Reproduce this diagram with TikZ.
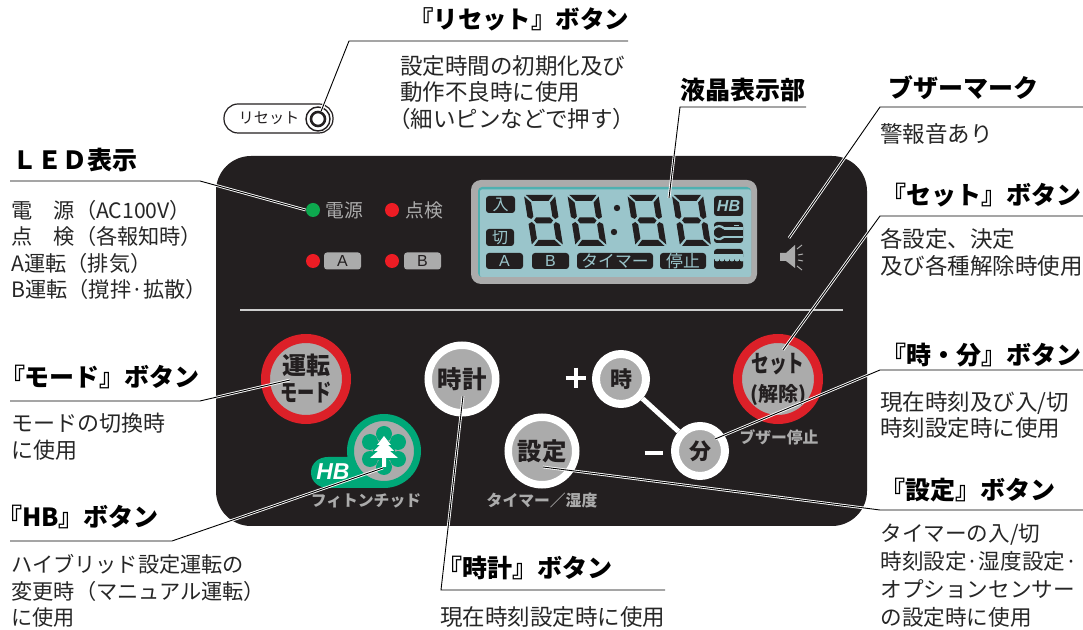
\documentclass[tikz,border=0pt]{standalone}
\usepackage{fontspec}
\setmainfont{Noto Sans CJK JP}
\newfontfamily\latinfont{Liberation Sans}
\usetikzlibrary{positioning}
\definecolor{panelblack}{HTML}{231F20}
\definecolor{btngray}{HTML}{ABABAB}
\definecolor{btnred}{HTML}{DC2028}
\definecolor{hbgreen}{HTML}{00A878}
\definecolor{lcdblue}{HTML}{9AC5CB}
\definecolor{lcdteal}{HTML}{4FB0B0}
\definecolor{ledgreen}{HTML}{0DA84E}
\definecolor{ledred}{HTML}{ED1C24}
\tikzset{
  heading/.style={font=\fontsize{12.5}{14}\selectfont\bfseries, inner sep=0pt},
  bodytext/.style={font=\fontsize{10.6}{13.3}\selectfont, anchor=north west, align=left, inner sep=0pt, text=black!85},
  widetext/.style={bodytext, font=\fontsize{11.25}{13.3}\selectfont},
  leader/.style={draw=white, line width=0.45pt, double=black, double distance=0.45pt},
  bigbtn/.style={circle, fill=btngray, draw=btnred, line width=4.5pt, minimum size=40.5pt, inner sep=0pt, align=center, font=\fontsize{12}{13.5}\selectfont\bfseries, text=panelblack},
  whitebtn/.style={circle, fill=btngray, draw=white, line width=3.75pt, minimum size=33.75pt, inner sep=0pt, font=\fontsize{12.2}{14}\selectfont\bfseries, text=panelblack},
  smallbtn/.style={circle, fill=btngray, draw=white, line width=4pt, minimum size=25pt, inner sep=0pt, font=\fontsize{11}{13}\selectfont\bfseries, text=panelblack},
  led/.style={circle, minimum size=7pt, inner sep=0pt},
  ledlabel/.style={font=\fontsize{9.4}{11}\selectfont, text=btngray, inner sep=0pt},
  ledtag/.style={fill=btngray, rounded corners=1.5pt, minimum width=18.5pt, minimum height=8.5pt, inner sep=0pt, text=panelblack, font=\latinfont\fontsize{8}{8}\selectfont},
  panellabel/.style={font=\fontsize{7.9}{9}\selectfont\bfseries, text=btngray, inner sep=0pt},
  lcdtag/.style={fill=panelblack, rounded corners=1.5pt, inner sep=0pt, text=lcdblue, font=\fontsize{8}{8}\selectfont},
  lcdseg/.style={fill=panelblack},
  signmark/.style={white, line width=2.4pt}
}
\begin{document}
\begin{tikzpicture}[x=0.5pt,y=-0.5pt]
\useasboundingbox (0,0) rectangle (1083,630);
% panel
\node (panel) at (541.5,341) [fill=panelblack, rounded corners=17.5pt, minimum width=325.5pt, minimum height=185pt, inner sep=0pt] {};
\draw[btngray!60!white, line width=1pt] (240,310) -- (843,310);
% reset button
\node (resetpill) at (278.5,118.5) [draw=panelblack, line width=0.6pt, rounded corners=7pt, minimum width=54.5pt, minimum height=14.5pt, inner sep=0pt] {};
\node (resetlabel) at (269,118.5) [font=\fontsize{7.6}{9}\selectfont, text=panelblack, inner sep=0pt] {リセット};
\node (resetknob) at (318,119) [circle, draw=panelblack, line width=0.7pt, minimum size=12pt, inner sep=0pt] {};
\node (resetpin) at (318,119) [circle, draw=panelblack, line width=1.3pt, minimum size=7pt, inner sep=0pt] {};
% leds
\node (ledpower) at (313,210) [led, fill=ledgreen] {};
\node (ledcheck) at (392,210) [led, fill=ledred] {};
\node (leda) at (313,261) [led, fill=ledred] {};
\node (ledb) at (392,261) [led, fill=ledred] {};
\node (powerlabel) at (344,210) [ledlabel] {電源};
\node (checklabel) at (424,210) [ledlabel] {点検};
\node (atag) at (342.5,261) [ledtag] {A};
\node (btag) at (422.5,261) [ledtag] {B};
% lcd
\node (lcdframe) at (614,232) [fill=btngray, rounded corners=5pt, minimum width=143pt, minimum height=52pt, inner sep=0pt] {};
\node (lcdedge) at (614.5,232) [fill=lcdteal, rounded corners=2pt, minimum width=136.5pt, minimum height=45pt, inner sep=0pt] {};
\fill[lcdblue, rounded corners=1pt] (480,189.5) rectangle (751,277);
\node (lcdin) at (500.5,204.5) [lcdtag, minimum width=14.5pt, minimum height=8.5pt] {入};
\node (lcdoff) at (500,237.5) [lcdtag, minimum width=14pt, minimum height=8.5pt] {切};
\node (lcda) at (504.5,261) [lcdtag, minimum width=18.5pt, minimum height=8pt, font=\latinfont\fontsize{8}{8}\selectfont] {A};
\node (lcdb) at (550.5,261) [lcdtag, minimum width=18.5pt, minimum height=8pt, font=\latinfont\fontsize{8}{8}\selectfont] {B};
\node (lcdtimer) at (615,261) [lcdtag, minimum width=38pt, minimum height=8pt, font=\fontsize{8.4}{8}\selectfont] {タイマー};
\node (lcdstop) at (683,261) [lcdtag, minimum width=23pt, minimum height=8pt, font=\fontsize{8.4}{8}\selectfont] {停止};
\node (lcdhb) at (728.5,206) [lcdtag, minimum width=14.5pt, minimum height=10pt, font=\latinfont\fontsize{8}{8}\selectfont\bfseries\itshape] {HB};
\node (lcdtool) at (728.5,232.5) [lcdtag, minimum width=14.5pt, minimum height=10.5pt] {};
\node (lcdwater) at (728.5,259) [lcdtag, minimum width=14.5pt, minimum height=10pt] {};
\draw[lcdblue, line width=1.1pt] (724,228.5) -- (743,228.5) (724,237) -- (743,237);
\draw[lcdblue, line width=0.8pt] (734,225.5) -- (739,225.5);
\draw[lcdblue, line width=1.1pt] (724,228.5) arc[start angle=-40,end angle=-320,radius=6.5];
\fill[lcdblue] (714,254) rectangle (743,259);
\foreach \wavex in {717,722,727,732,737,742} {
  \fill[lcdblue] (\wavex,259) circle (2.5);
}
% digits
\foreach \digitx in {543.5,587,647,691.5} {
  \begin{scope}[shift={(\digitx,220.5)}, xslant=-0.16]
    \fill[lcdseg] (-13.5,-25.5) -- (13.5,-25.5) -- (8,-19.5) -- (-8,-19.5) -- cycle;
    \fill[lcdseg] (-13.5,25.5) -- (13.5,25.5) -- (8,19.5) -- (-8,19.5) -- cycle;
    \fill[lcdseg] (-9.5,0) -- (-7,-3) -- (7,-3) -- (9.5,0) -- (7,3) -- (-7,3) -- cycle;
    \foreach \segside in {-1,1} {
      \fill[lcdseg] (\segside*15.5,-24) -- (\segside*9.5,-18) -- (\segside*9.5,-4) -- (\segside*12,-1.5) -- (\segside*15.5,-3.5) -- cycle;
      \fill[lcdseg] (\segside*15.5,24) -- (\segside*9.5,18) -- (\segside*9.5,4) -- (\segside*12,1.5) -- (\segside*15.5,3.5) -- cycle;
    }
  \end{scope}
}
\fill[panelblack] (617,208) circle (3.2) (614,232) circle (3.2);
% speaker
\fill[btngray] (780,253) -- (786,253) -- (795,245) -- (795,268) -- (786,261) -- (780,261) -- cycle;
\draw[btngray, line width=0.5pt] (797,249) -- (802,245) (798,255) -- (803,254) (798,260) -- (803,261) (797,266) -- (802,270);
% buttons
\node (modebtn) at (306,379) [bigbtn] {運転\\\scalebox{0.72}[1]{モード}};
\node (setbtn) at (778,379) [bigbtn] {\scalebox{0.74}[1]{セット}\\[1pt]{\fontsize{10}{11}\selectfont(解除)}};
\node (clockbtn) at (462,379) [whitebtn] {時計};
\node (timerbtn) at (542,451) [whitebtn] {設定};
\node (hourbtn) at (621,379) [smallbtn] {時};
\node (minbtn) at (700,451) [smallbtn] {分};
\draw[white, line width=2.5pt] (hourbtn) -- (minbtn);
\node (plussign) at (576,378) [inner sep=0pt, minimum size=10pt] {};
\node (minussign) at (654,453) [inner sep=0pt, minimum size=9pt] {};
\draw[signmark] (plussign.west) -- (plussign.east) (plussign.north) -- (plussign.south);
\draw[signmark] (minussign.west) -- (minussign.east);
\node (buzzerstop) at (779,437) [panellabel] {ブザー停止};
\node (timerlabel) at (542,501) [panellabel] {タイマー／湿度};
\node (phytonlabel) at (366,501) [panellabel] {フィトンチッド};
% hb button
\fill[hbgreen] (311,472.5) .. controls (311,463) and (319,457) .. (328,457) -- (384,457) -- (384,488) -- (328,488) .. controls (319,488) and (311,482) .. (311,472.5) -- cycle;
\node (hbbtn) at (384,451) [circle, fill=btngray, draw=hbgreen, line width=3.5pt, minimum size=33.5pt, inner sep=0pt] {};
\fill[hbgreen] (384,451) circle (11);
\foreach \cloverx/\clovery in {384/434,370/442,398/442,370/459,398/459,384/467} {
  \fill[hbgreen] (\cloverx,\clovery) circle (8);
}
\fill[white] (384,436) -- (391,445) -- (388,445) -- (394,451) -- (390,451) -- (398,458) -- (386,458) -- (386,467) -- (382,467) -- (382,458) -- (370,458) -- (378,451) -- (374,451) -- (380,445) -- (377,445) -- cycle;
\node (hblogo) at (333,472) [text=white, inner sep=0pt, font=\latinfont\fontsize{11.5}{12}\selectfont\bfseries\itshape] {HB};
% headings
\node (resethead) at (519,19) [heading, font=\fontsize{12.2}{14}\selectfont\bfseries] {『リセット』ボタン};
\node (ledhead) at (74.5,160) [heading] {ＬＥＤ表示};
\node (modehead) at (100,377) [heading] {『モード』ボタン};
\node (hbhead) at (78,517) [heading] {『HB』ボタン};
\node (clockhead) at (525,568) [heading] {『時計』ボタン};
\node (lcdhead) at (743,90) [heading] {液晶表示部};
\node (buzzerhead) at (963,88) [heading] {ブザーマーク};
\node (sethead) at (981,195) [heading] {『セット』ボタン};
\node (hourhead) at (981,355) [heading] {『時・分』ボタン};
\node (timerhead) at (968,490) [heading] {『設定』ボタン};
% texts
\node (resettext) at (400,55) [widetext] {設定時間の初期化及び\\動作不良時に使用\\\hspace*{-6pt}（細いピンなどで押す）};
\node (ledtext) at (11,199.5) [bodytext] {電　源（AC100V）\\点　検（各報知時）\\A運転（排気）\\B運転（撹拌·拡散）};
\node (modetext) at (11,413) [bodytext, font=\fontsize{11}{13.3}\selectfont] {モードの切換時\\に使用};
\node (hbtext) at (11,554) [bodytext] {ハイブリッド設定運転の\\変更時（マニュアル運転）\\に使用};
\node (clocktext) at (440,606) [widetext] {現在時刻設定時に使用};
\node (buzzertext) at (880,123) [widetext] {警報音あり};
\node (settext) at (880,228) [widetext] {各設定、決定\\及び各種解除時使用};
\node (hourtext) at (880,391) [widetext] {現在時刻及び入/切\\時刻設定時に使用};
\node (timertext) at (880,524) [bodytext, font=\fontsize{10.8}{14}\selectfont] {タイマーの入/切\\時刻設定·湿度設定·\\オプションセンサー\\の設定時に使用};
% leaders
\coordinate (resetend) at (628,41); \coordinate (resetbend) at (349,41);
\coordinate (ledstart) at (10,181); \coordinate (ledbend) at (200,181);
\coordinate (modestart) at (10,401); \coordinate (modebend) at (200,401); \coordinate (modetip) at (290,380);
\coordinate (hbstart) at (10,541); \coordinate (hbbend) at (172,541); \coordinate (hbtip) at (383,468);
\coordinate (clockend) at (665,590); \coordinate (clockbend) at (441,590); \coordinate (clocktip) at (463,396);
\coordinate (lcdend) at (806,107); \coordinate (lcdbend) at (680,107); \coordinate (lcdtip) at (669,198);
\coordinate (buzzerend) at (1083,107); \coordinate (buzzerbend) at (880,107); \coordinate (buzzertip) at (789,238);
\coordinate (setend) at (1083,216); \coordinate (setbend) at (880,216); \coordinate (settip) at (783,350);
\coordinate (hourend) at (1083,370); \coordinate (hourbend) at (880,370); \coordinate (hourtip) at (715,439);
\coordinate (timerend) at (1083,510); \coordinate (timerbend) at (880,510); \coordinate (timertip) at (543,467);
\draw[leader] (resetend) -- (resetbend) -- (resetpin);
\draw[leader] (ledstart) -- (ledbend) -- (ledpower.west);
\draw[leader] (modestart) -- (modebend) -- (modetip);
\draw[leader] (hbstart) -- (hbbend) -- (hbtip);
\draw[leader] (clockend) -- (clockbend) -- (clocktip);
\draw[leader] (lcdend) -- (lcdbend) -- (lcdtip);
\draw[leader] (buzzerend) -- (buzzerbend) -- (buzzertip);
\draw[leader] (setend) -- (setbend) -- (settip);
\draw[leader] (hourend) -- (hourbend) -- (hourtip);
\draw[leader] (timerend) -- (timerbend) -- (timertip);
\end{tikzpicture}
\end{document}
